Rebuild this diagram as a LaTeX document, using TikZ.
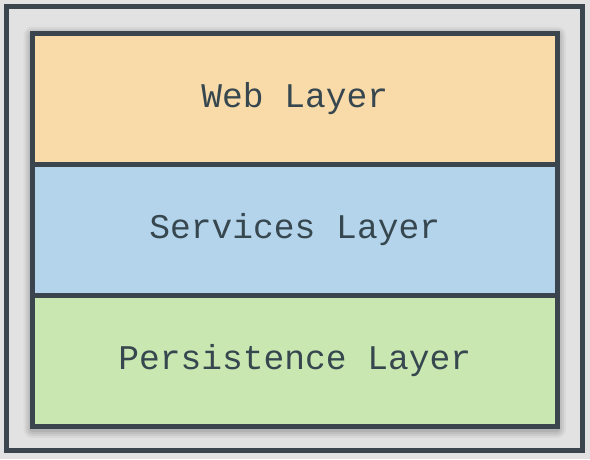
\documentclass[tikz,border=0pt]{standalone}
\usepackage{fontspec}
\setmonofont{Liberation Mono}
\definecolor{bordc}{HTML}{3A454D}
\definecolor{textc}{HTML}{37474F}
\definecolor{webc}{HTML}{F9DBA9}
\definecolor{svcc}{HTML}{B3D4EB}
\definecolor{perc}{HTML}{C9E7B0}
\definecolor{bgc}{HTML}{E2E2E2}
\begin{document}
\begin{tikzpicture}[x=1pt,y=-1pt,
  layer/.style={draw=bordc,line width=5pt,minimum width=524.5pt,inner sep=0pt,outer sep=0pt,
     font=\ttfamily\fontsize{34.6}{38}\selectfont,text=textc},
  frame/.style={draw=bordc,line width=5pt}]
\useasboundingbox (0,0) rectangle (590,459);
\fill[bgc] (0,0) rectangle (590,459);
\draw[frame] (6.5,6.5) rectangle (582.5,450.5);
% soft shadow
\foreach \d/\o in {9/0.04,7/0.05,5/0.06,3/0.07}{
  \fill[black,opacity=\o,rounded corners=\d pt] (32.5-\d,33.5-\d+2) rectangle (557+\d,426+\d+3);
}
\node[layer,fill=webc,minimum height=131pt,anchor=north west] (web) at (32.5,33.5) {Web Layer};
\node[layer,fill=svcc,minimum height=130.5pt,anchor=north west] (svc) at (web.south west) {Services Layer};
\node[layer,fill=perc,minimum height=131pt,anchor=north west] (per) at (svc.south west) {Persistence Layer};
\end{tikzpicture}
\end{document}
